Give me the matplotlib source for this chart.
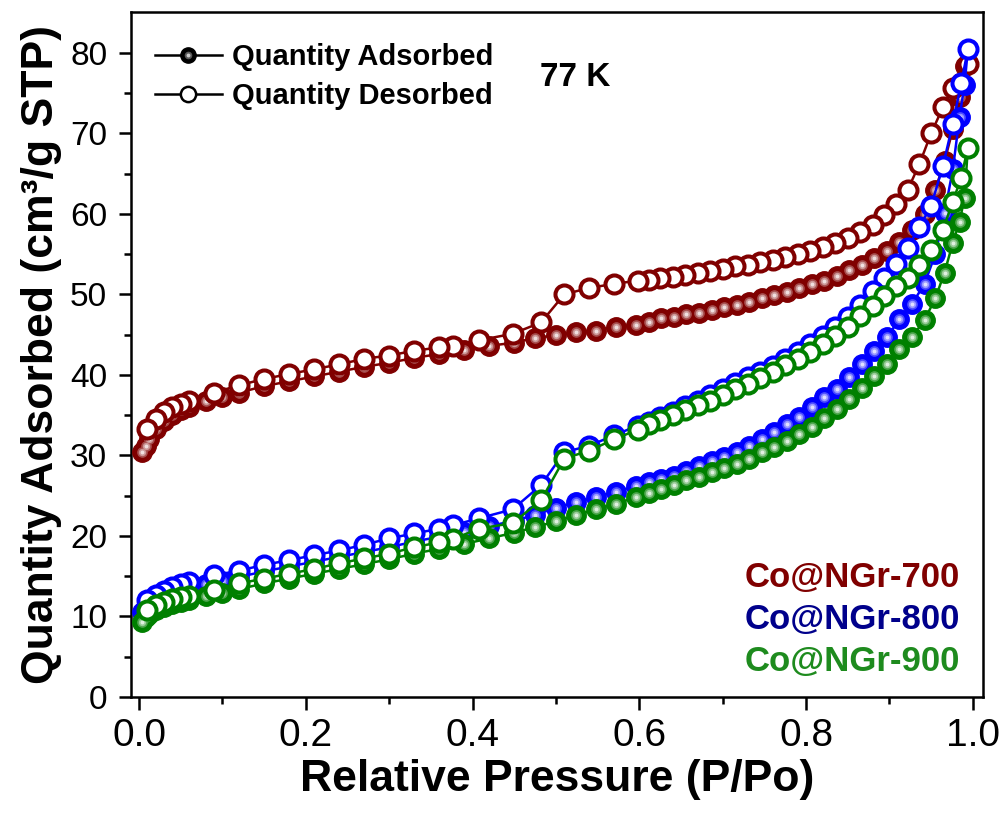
import numpy as np
import matplotlib
matplotlib.use("Agg")
import matplotlib.pyplot as plt
import matplotlib.colors as mcolors
from matplotlib.lines import Line2D
from matplotlib.legend_handler import HandlerTuple

plt.rcParams["font.family"] = ["Liberation Sans", "DejaVu Sans"]

# ============================================================
# DATA
# ============================================================

P_ADS = [0.004, 0.008, 0.012, 0.02, 0.03, 0.04, 0.05, 0.06, 0.08, 0.10,
         0.12, 0.15, 0.18, 0.21, 0.24, 0.27, 0.30, 0.33, 0.36, 0.39,
         0.42, 0.45, 0.475, 0.50, 0.524, 0.548, 0.572, 0.596, 0.612, 0.626,
         0.641, 0.656, 0.672, 0.687, 0.702, 0.717, 0.732, 0.747, 0.762, 0.777,
         0.792, 0.807, 0.822, 0.837, 0.852, 0.867, 0.882, 0.897, 0.912, 0.927,
         0.942, 0.955, 0.966, 0.976, 0.984, 0.990]

P_DES = [0.994, 0.986, 0.976, 0.964, 0.950, 0.936, 0.922, 0.908, 0.894, 0.880,
         0.865, 0.850, 0.835, 0.820, 0.805, 0.790, 0.775, 0.760, 0.745, 0.730,
         0.715, 0.700, 0.685, 0.670, 0.655, 0.640, 0.625, 0.612, 0.598, 0.570,
         0.540, 0.510, 0.482, 0.448, 0.408, 0.376, 0.360, 0.330, 0.300, 0.270,
         0.240, 0.210, 0.180, 0.150, 0.120, 0.090, 0.060, 0.050, 0.040, 0.030,
         0.020, 0.010]

ADS_700 = [30.4, 31.2, 32.0, 33.3, 34.3, 35.0, 35.6, 36.0, 36.8, 37.3,
           37.8, 38.6, 39.2, 39.8, 40.4, 41.0, 41.5, 42.1, 42.6, 43.1,
           43.6, 44.0, 44.6, 44.9, 45.3, 45.5, 46.0, 46.2, 46.6, 47.0,
           47.2, 47.5, 47.7, 48.0, 48.4, 48.7, 49.1, 49.5, 49.9, 50.3,
           50.8, 51.3, 51.7, 52.3, 53.0, 53.7, 54.5, 55.4, 56.5, 58.0,
           60.0, 63.0, 66.5, 70.5, 74.5, 78.3]
DES_700 = [78.6, 76.3, 75.6, 73.2, 70.0, 66.2, 63.0, 61.2, 59.8, 58.6,
           57.7, 57.0, 56.4, 55.9, 55.4, 55.0, 54.6, 54.3, 54.0, 53.7,
           53.5, 53.2, 52.9, 52.7, 52.4, 52.2, 52.0, 51.8, 51.7, 51.3,
           50.8, 50.0, 46.5, 45.1, 44.3, 43.6, 43.4, 43.0, 42.4, 42.0,
           41.3, 40.7, 40.1, 39.5, 38.7, 37.8, 36.8, 36.4, 36.0, 35.4,
           34.5, 33.3]

ADS_800 = [10.6, 11.2, 11.6, 12.1, 12.5, 12.9, 13.2, 13.5, 14.0, 14.4,
           14.9, 15.6, 16.2, 16.8, 17.4, 18.0, 18.6, 19.3, 19.9, 20.5,
           21.2, 21.9, 22.6, 23.5, 24.2, 24.8, 25.5, 26.2, 26.7, 27.1,
           27.5, 28.1, 28.7, 29.3, 29.8, 30.4, 31.2, 32.0, 32.9, 33.9,
           34.8, 36.0, 37.2, 38.3, 39.7, 41.3, 43.0, 44.7, 46.9, 48.8,
           51.3, 55.0, 60.1, 65.5, 72.0, 76.0]
DES_800 = [80.4, 76.2, 71.2, 65.9, 61.0, 58.4, 55.8, 53.8, 52.0, 50.4,
           48.7, 47.2, 46.0, 44.8, 43.8, 42.8, 42.0, 41.1, 40.4, 39.7,
           39.0, 38.2, 37.5, 36.8, 36.1, 35.4, 34.8, 34.2, 33.7, 32.5,
           31.2, 30.4, 26.3, 23.3, 22.2, 21.3, 20.9, 20.3, 19.7, 18.9,
           18.2, 17.6, 17.0, 16.4, 15.7, 15.1, 14.3, 14.0, 13.6, 13.2,
           12.7, 12.0]

ADS_900 = [9.3, 9.9, 10.3, 10.8, 11.2, 11.5, 11.8, 12.0, 12.5, 12.9,
           13.4, 14.1, 14.7, 15.3, 15.9, 16.5, 17.1, 17.8, 18.4, 19.0,
           19.7, 20.4, 21.1, 21.8, 22.6, 23.3, 24.0, 24.8, 25.3, 25.8,
           26.3, 26.9, 27.3, 27.9, 28.4, 28.9, 29.6, 30.4, 31.0, 31.8,
           32.7, 33.5, 34.7, 35.8, 37.0, 38.4, 39.9, 41.3, 43.2, 44.7,
           46.8, 49.5, 52.7, 56.4, 59.0, 62.0]
DES_900 = [68.2, 64.5, 61.5, 58.0, 55.5, 53.6, 52.0, 51.0, 49.8, 48.6,
           47.3, 46.0, 44.8, 43.8, 42.8, 42.0, 41.2, 40.3, 39.6, 38.9,
           38.2, 37.5, 36.8, 36.2, 35.6, 35.0, 34.4, 33.9, 33.2, 32.0,
           30.6, 29.6, 24.4, 21.6, 20.9, 19.6, 19.2, 18.6, 17.8, 17.2,
           16.6, 15.9, 15.3, 14.7, 14.1, 13.3, 12.6, 12.4, 12.2, 11.8,
           11.4, 10.8]

SAMPLES = ["Co@NGr-700", "Co@NGr-800", "Co@NGr-900"]
LINE_COLORS = ["#800000", "#0000FF", "#008000"]
TEXT_COLORS = ["#800000", "#00008B", "#1E8B1E"]

X_TICKS = [0.0, 0.2, 0.4, 0.6, 0.8, 1.0]
Y_TICKS = [0, 10, 20, 30, 40, 50, 60, 70, 80]

# ============================================================
# Helpers
# ============================================================

MS = 14


def whiten(color, f):
    rgb = np.array(mcolors.to_rgb(color))
    return tuple(rgb * (1 - f) + f)


def balls(ax, x, y, color, z):
    # filled marker with a soft highlight, like a shaded sphere
    ax.plot(x, y, ls="none", marker="o", ms=MS, mfc=color, mec=color,
            mew=1.0, zorder=z)
    for size, f in [(0.55, 0.3), (0.38, 0.6), (0.2, 0.88)]:
        ax.plot(x, y, ls="none", marker="o", ms=MS * size,
                mfc=whiten(color, f), mec="none", zorder=z)


# ============================================================
# Plot
# ============================================================

fig = plt.figure(figsize=(10.06, 8.13), dpi=100)
ax = fig.add_axes([0.130, 0.1427, 0.847, 0.842])

ads_all = [ADS_700, ADS_800, ADS_900]
des_all = [DES_700, DES_800, DES_900]

for i, (ads, des, col) in enumerate(zip(ads_all, des_all, LINE_COLORS)):
    z = 3 + i * 3
    ax.plot(P_ADS + P_DES, ads + des, color=col, lw=1.8, zorder=z)
    balls(ax, P_ADS, ads, col, z + 1)
    ax.plot(P_DES, des, ls="none", marker="o", ms=MS - 1, mfc="white",
            mec=col, mew=2.9, zorder=z + 2)

ax.set_xlim(-0.01, 1.012)
ax.set_ylim(0, 85)
ax.set_xticks(X_TICKS)
ax.set_xticklabels([f"{v:.1f}" for v in X_TICKS])
ax.set_yticks(Y_TICKS)
ax.set_xticks(np.arange(0.1, 1.0, 0.2), minor=True)
ax.set_yticks(np.arange(5, 85, 10), minor=True)

for s in ax.spines.values():
    s.set_linewidth(1.8)
ax.tick_params(which="major", direction="out", length=9, width=1.8)
ax.tick_params(which="minor", direction="out", length=5, width=1.8)
ax.tick_params(axis="x", labelsize=28, pad=6)
ax.tick_params(axis="y", labelsize=24, pad=8)

ax.set_xlabel("Relative Pressure (P/Po)", fontsize=32, fontweight="bold",
              labelpad=4)
ax.set_ylabel("Quantity Adsorbed (cm\u00b3/g STP)", fontsize=32,
              fontweight="bold", labelpad=6)

# legend (adsorbed / desorbed symbols)
h_ads = (Line2D([], [], color="k", lw=1.8, marker="o", ms=11, mfc="k", mec="k"),
         Line2D([], [], ls="none", marker="o", ms=5.5, mfc="0.35", mec="none"),
         Line2D([], [], ls="none", marker="o", ms=2.8, mfc="0.8", mec="none"))
h_des = Line2D([], [], color="k", lw=1.8, marker="o", ms=11, mfc="white",
               mec="k", mew=1.8)
ax.legend([h_ads, h_des], ["Quantity Adsorbed", "Quantity Desorbed"],
          handler_map={tuple: HandlerTuple(ndivide=1)},
          loc="upper left", bbox_to_anchor=(0.028, 0.955), frameon=False,
          borderpad=0, borderaxespad=0, handlelength=2.3, handletextpad=0.35,
          labelspacing=0.38, prop={"weight": "bold", "size": 21})

ax.text(0.521, 0.905, "77 K", transform=ax.transAxes, fontsize=24,
        fontweight="bold", ha="center", va="center")

for name, col, yy in zip(SAMPLES, TEXT_COLORS, [0.175, 0.113, 0.052]):
    ax.text(0.973, yy, name, transform=ax.transAxes, color=col,
            fontsize=25, fontweight="bold", ha="right", va="center")

fig.savefig("out.png", dpi=100)
